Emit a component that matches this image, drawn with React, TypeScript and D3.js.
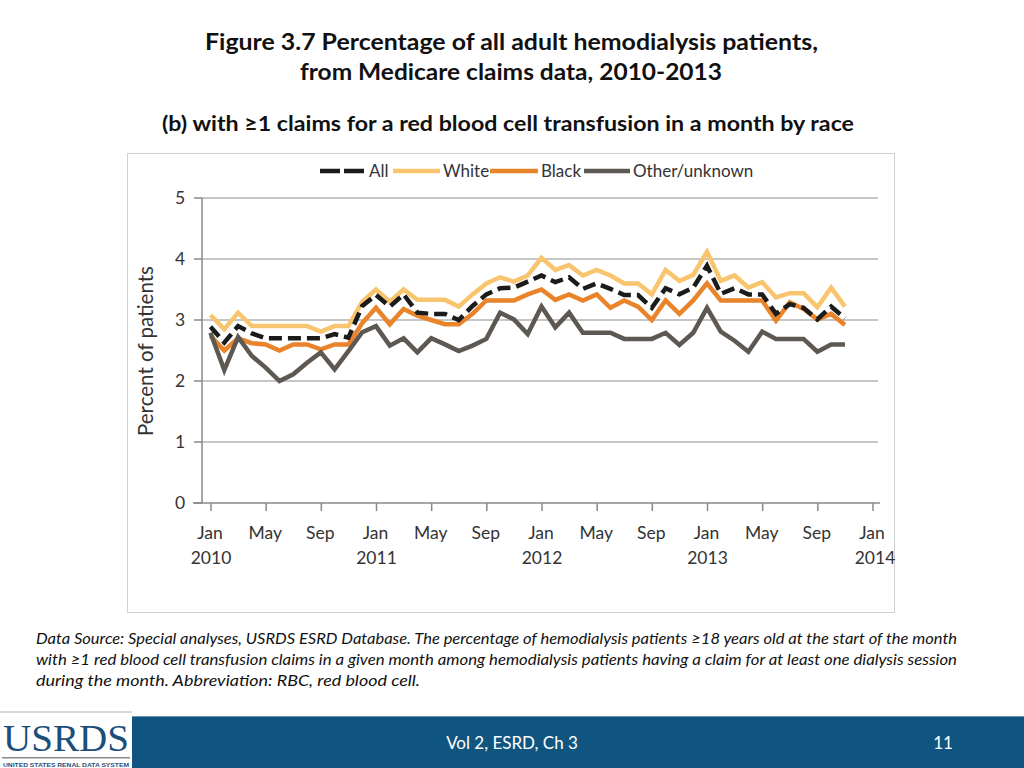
import React from "react";
import * as d3 from "d3";

const allSeries = [2.89, 2.63, 2.9, 2.78, 2.7, 2.7, 2.7, 2.7, 2.7, 2.77, 2.71, 3.23, 3.41, 3.22, 3.42, 3.12, 3.1, 3.1, 3.0,
  3.23, 3.42, 3.52, 3.53, 3.63, 3.73, 3.62, 3.7, 3.51, 3.6,
  3.51, 3.41, 3.41, 3.2, 3.52, 3.42, 3.53, 3.89, 3.43,
  3.52, 3.42, 3.42, 3.1, 3.26, 3.2, 3.01, 3.22, 3.03];
const whiteSeries = [3.08, 2.85, 3.12, 2.9, 2.9, 2.9, 2.9, 2.9, 2.81, 2.9, 2.9, 3.3, 3.5, 3.3, 3.5, 3.33, 3.33, 3.33, 3.22,
  3.42, 3.6, 3.7, 3.63, 3.73, 4.02, 3.82, 3.9, 3.73, 3.82,
  3.73, 3.6, 3.6, 3.42, 3.82, 3.64, 3.74, 4.12, 3.64,
  3.73, 3.53, 3.62, 3.37, 3.44, 3.44, 3.21, 3.53, 3.22];
const blackSeries = [2.74, 2.5, 2.7, 2.62, 2.6, 2.5, 2.6, 2.6, 2.52, 2.6, 2.6, 2.95, 3.2, 2.93, 3.18, 3.07, 3.0, 2.93, 2.93,
  3.1, 3.32, 3.32, 3.32, 3.42, 3.5, 3.33, 3.42, 3.32, 3.42,
  3.2, 3.32, 3.22, 3.0, 3.32, 3.1, 3.32, 3.6, 3.32,
  3.32, 3.32, 3.32, 2.99, 3.29, 3.18, 3.01, 3.1, 2.92];
const otherSeries = [2.79, 2.18, 2.72, 2.41, 2.22, 2.0, 2.11, 2.3, 2.47, 2.19, 2.49, 2.8, 2.9, 2.58, 2.7, 2.47, 2.7, 2.6, 2.49,
  2.58, 2.69, 3.12, 3.01, 2.77, 3.22, 2.88, 3.12, 2.79, 2.79,
  2.79, 2.69, 2.69, 2.69, 2.79, 2.59, 2.79, 3.2, 2.81,
  2.66, 2.48, 2.81, 2.69, 2.69, 2.69, 2.48, 2.6, 2.6];

const yTicks = [0, 1, 2, 3, 4, 5];
const xTickMonths = ["Jan", "May", "Sep", "Jan", "May", "Sep", "Jan", "May", "Sep", "Jan", "May", "Sep", "Jan"];
const xTickYears = ["2010", "", "", "2011", "", "", "2012", "", "", "2013", "", "", "2014"];

const seriesDefs = [
  { name: "White", data: whiteSeries, color: "#F8C56E", dash: "" },
  { name: "Black", data: blackSeries, color: "#E9842B", dash: "" },
  { name: "Other/unknown", data: otherSeries, color: "#5E5853", dash: "" },
  { name: "All", data: allSeries, color: "#1B1B1B", dash: "13 6" },
];
const legendOrder = ["All", "White", "Black", "Other/unknown"];

const footerLines = [
  "Data Source: Special analyses, USRDS ESRD Database. The percentage of hemodialysis patients \u226518 years old at the start of the month",
  "with \u22651 red blood cell transfusion claims in a given month among hemodialysis patients having a claim for at least one dialysis session",
  "during the month. Abbreviation: RBC, red blood cell.",
];
const footerWidths = [921, 921, 384];

export default function App() {
  const x = d3.scaleLinear().domain([0, 48]).range([210.5, 872.5]);
  const y = d3.scaleLinear().domain([0, 5]).range([503, 198]);
  const line = d3
    .line<number>()
    .x((_, i) => x(i))
    .y((d) => y(d));
  const font = "Lato, 'Open Sans', sans-serif";
  const legendPos: Record<string, [number, number]> = {
    All: [320, 369],
    White: [393, 443],
    Black: [490, 541],
    "Other/unknown": [584, 633],
  };
  return (
    <svg
      width={1024}
      height={768}
      style={{ position: "absolute", left: 0, top: 0, background: "#fff" }}
      fontFamily={font}
    >
      <rect x={0} y={0} width={1024} height={768} fill="#fff" />
      <text x={511.5} y={50} textAnchor="middle" fontSize={23.5} fontWeight="bold" fill="#111"
        textLength={613} lengthAdjust="spacingAndGlyphs">
        Figure 3.7 Percentage of all adult hemodialysis patients,
      </text>
      <text x={511} y={80} textAnchor="middle" fontSize={23.5} fontWeight="bold" fill="#111"
        textLength={422} lengthAdjust="spacingAndGlyphs">
        from Medicare claims data, 2010-2013
      </text>
      <text x={508} y={131} textAnchor="middle" fontSize={21.5} fontWeight="bold" fill="#111"
        textLength={692} lengthAdjust="spacingAndGlyphs">
        (b) with ≥1 claims for a red blood cell transfusion in a month by race
      </text>

      <rect x={127.5} y={153.5} width={767} height={459} fill="#fff" stroke="#d0d0d0" strokeWidth={1} />

      {/* gridlines */}
      {yTicks.slice(1).map((t) => (
        <line key={t} x1={202} x2={878} y1={y(t)} y2={y(t)} stroke="#b3b3b3" strokeWidth={1.5} />
      ))}
      {/* axes */}
      <line x1={202} x2={202} y1={198} y2={503} stroke="#888" strokeWidth={1.5} />
      <line x1={193} x2={880} y1={503} y2={503} stroke="#888" strokeWidth={1.5} />
      {yTicks.map((t) => (
        <g key={t}>
          <line x1={194} x2={202} y1={y(t)} y2={y(t)} stroke="#888" strokeWidth={1.5} />
          <text x={180} y={y(t) + 6} textAnchor="middle" fontSize={17.5} fill="#333">
            {t}
          </text>
        </g>
      ))}
      {xTickMonths.map((m, k) => {
        const xp = x(k * 4) + 0.5;
        return (
          <g key={k}>
            <line x1={xp} x2={xp} y1={503} y2={511} stroke="#888" strokeWidth={1.5} />
            <text x={xp - 1} y={539} textAnchor="middle" fontSize={17.5} fill="#333">
              {m}
            </text>
            {xTickYears[k] && (
              <text x={xp + (k === 12 ? 2 : 0)} y={564} textAnchor="middle" fontSize={17.5} fill="#333">
                {xTickYears[k]}
              </text>
            )}
          </g>
        );
      })}
      <text
        transform="translate(153,351) rotate(-90)"
        textAnchor="middle"
        fontSize={20.5}
        fill="#333"
      >
        Percent of patients
      </text>

      {/* series */}
      {seriesDefs.map((s) => (
        <path
          key={s.name}
          d={line(s.data) || ""}
          fill="none"
          stroke={s.color}
          strokeWidth={4.5}
          strokeDasharray={s.dash || undefined}
          strokeLinejoin="miter"
        />
      ))}

      {/* legend */}
      {legendOrder.map((n) => {
        const s = seriesDefs.find((d) => d.name === n)!;
        const [lx, tx] = legendPos[n];
        return (
          <g key={n}>
            <line
              x1={lx}
              x2={tx - 3}
              y1={171}
              y2={171}
              stroke={s.color}
              strokeWidth={4.5}
              strokeDasharray={s.dash ? "20 4" : undefined}
            />
            <text x={tx} y={177} fontSize={17} fill="#333">
              {n}
            </text>
          </g>
        );
      })}

      {/* footer */}
      {footerLines.map((l, i) => (
        <text key={i} x={36} y={644 + i * 21} fontSize={15} fontStyle="italic" fill="#111"
          textLength={footerWidths[i]} lengthAdjust="spacingAndGlyphs">
          {l}
        </text>
      ))}

      {/* bottom bar */}
      <rect x={0} y={711} width={132} height={2} fill="#d8d8d8" />
      <rect x={132} y={716} width={892} height={52} fill="#10557F" />
      <line x1={132} x2={1024} y1={716.5} y2={716.5} stroke="#6f93ad" strokeWidth={1} />
      <text
        x={66}
        y={751}
        textAnchor="middle"
        fontFamily="'Liberation Serif', 'DejaVu Serif', serif"
        fontSize={38}
        fill="#1C4E7C"
        textLength={126}
        lengthAdjust="spacingAndGlyphs"
      >
        USRDS
      </text>
      <rect x={2} y={757} width={128} height={1.5} fill="#8a8a8a" />
      <text
        x={66}
        y={767}
        textAnchor="middle"
        fontFamily="'Liberation Sans', Arial, sans-serif"
        fontSize={6}
        fontWeight="bold"
        fill="#1C4E7C"
        textLength={126}
        lengthAdjust="spacingAndGlyphs"
      >
        UNITED STATES RENAL DATA SYSTEM
      </text>
      <text x={512} y={749} textAnchor="middle" fontSize={17} fill="#fff">
        Vol 2, ESRD, Ch 3
      </text>
      <text x={943} y={749} textAnchor="middle" fontSize={17} fill="#fff">
        11
      </text>
    </svg>
  );
}
